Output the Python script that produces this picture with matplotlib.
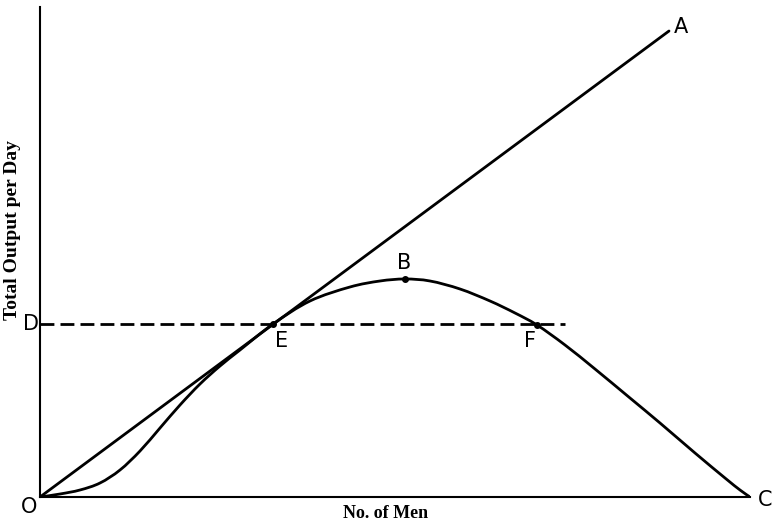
import numpy as np
import matplotlib.pyplot as plt
from matplotlib.path import Path
from matplotlib.patches import PathPatch

# curva do produto total (homens, producao)
homens = np.array([0, 20, 40, 60, 80, 100, 120, 140, 160, 180, 200, 233, 270,
                   310, 340, 365, 390, 420, 450, 475, 497, 525, 555, 590, 620,
                   655, 685, 700, 710])
producao = np.array([0, 3, 7, 14, 27, 46, 69, 92, 113, 131, 147, 173, 196,
                     210, 216, 218, 216, 208, 196, 184, 172, 152, 128, 99, 74,
                     44, 19, 7, 0])

# reta OA
reta_x = np.array([0, 629])
reta_y = np.array([0, 466])

# linha tracejada D -> alem de F
nivel_d = 173
tracejado_fim = 525

# pontos marcados
pontos = {'B': (365, 218), 'E': (233, 173), 'F': (497, 172)}

fig = plt.figure(figsize=(7.78, 5.25), dpi=100)
ax = fig.add_axes([40 / 778, 28 / 525, 710 / 778, 490 / 525])

# curva suave (Catmull-Rom -> Bezier) passando pelos pontos lidos
pts = np.column_stack([homens, producao]).astype(float)
ext = np.vstack([pts[0], pts, pts[-1]])
verts = [pts[0]]
codes = [Path.MOVETO]
for k in range(1, len(ext) - 2):
    p0, p1, p2, p3 = ext[k - 1], ext[k], ext[k + 1], ext[k + 2]
    verts += [p1 + (p2 - p0) / 6, p2 - (p3 - p1) / 6, p2]
    codes += [Path.CURVE4] * 3
curva = PathPatch(Path(verts, codes), facecolor='none', edgecolor='black',
                  linewidth=2.0, capstyle='round')
ax.add_patch(curva)

ax.plot(reta_x, reta_y, '-', color='black', linewidth=2.0, solid_capstyle='round')
ax.plot([0, tracejado_fim], [nivel_d, nivel_d], '--', color='black', linewidth=2.0, dashes=(5, 2.2))

for nome, (px, py) in pontos.items():
    ax.plot(px, py, 'o', color='black', markersize=4)

fonte = dict(fontsize=15, family=['Liberation Sans Narrow', 'DejaVu Sans'], color='black')
ax.text(-3, 0, 'O', ha='right', va='top', **fonte)
ax.text(634, 470, 'A', ha='left', va='center', **fonte)
ax.text(364, 224, 'B', ha='center', va='bottom', **fonte)
ax.text(718, -3, 'C', ha='left', va='center', **fonte)
ax.text(-1, nivel_d, 'D', ha='right', va='center', **fonte)
ax.text(242, 166, 'E', ha='center', va='top', **fonte)
ax.text(490, 166, 'F', ha='center', va='top', **fonte)

ax.set_xlim(0, 710)
ax.set_ylim(0, 490)
ax.spines['top'].set_visible(False)
ax.spines['right'].set_visible(False)
ax.spines['left'].set_linewidth(1.5)
ax.spines['bottom'].set_linewidth(1.5)
ax.set_xticks([])
ax.set_yticks([])

fig.text(386 / 778, 1 - 513 / 525, 'No. of Men', ha='center', va='center',
         fontsize=13, fontweight='bold', family='Liberation Serif')
fig.text(13 / 778, 1 - 230 / 525, 'Total Output per Day', ha='center', va='center',
         rotation=90, fontsize=14, fontweight='bold', family='Liberation Serif')

plt.savefig('out.png', dpi=100)
